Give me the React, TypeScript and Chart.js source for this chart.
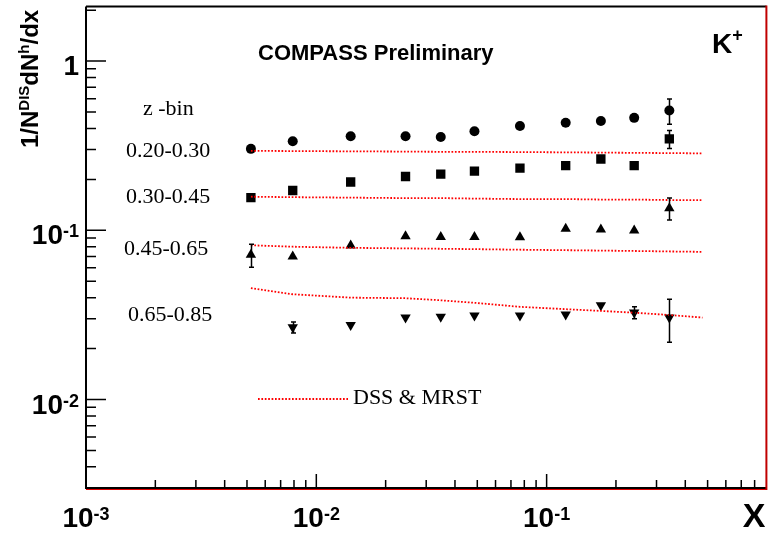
import React, { useEffect, useRef } from "react";
import { Chart, registerables } from "chart.js";

Chart.register(...registerables);

// ---- data (x = Bjorken x, y = 1/N^DIS dN^h/dx) ----
const xPoints = [0.0052, 0.0079, 0.0141, 0.0244, 0.0347, 0.0486, 0.0766, 0.121, 0.172, 0.24, 0.341];

const zBin1 = [0.303, 0.336, 0.36, 0.36, 0.356, 0.385, 0.414, 0.432, 0.443, 0.462, 0.511];
const zBin1Err = [0, 0, 0, 0, 0, 0, 0, 0, 0, 0, 0.087];
const zBin2 = [0.156, 0.172, 0.193, 0.208, 0.215, 0.224, 0.233, 0.241, 0.264, 0.241, 0.347];
const zBin2Err = [0, 0, 0, 0, 0, 0, 0, 0, 0, 0, 0.042];
const zBin3 = [0.0716, 0.0701, 0.0813, 0.0922, 0.0913, 0.0913, 0.0909, 0.102, 0.101, 0.0996, 0.135];
const zBin3Err = [0.011, 0, 0, 0, 0, 0, 0, 0, 0, 0, 0.02];
const zBin4 = [null, 0.0267, 0.0276, 0.0305, 0.0308, 0.0314, 0.0314, 0.0318, 0.0361, 0.0327, 0.0305];
const zBin4Err = [0, 0.002, 0, 0, 0, 0, 0, 0, 0, 0.0027, 0.0087];

// DSS & MRST curves
const xTheory = [0.0052, 0.0079, 0.0141, 0.0244, 0.0347, 0.0486, 0.0766, 0.121, 0.172, 0.24, 0.341, 0.475];
const theory1 = [0.295, 0.294, 0.293, 0.292, 0.291, 0.291, 0.29, 0.289, 0.288, 0.287, 0.286, 0.285];
const theory2 = [0.158, 0.157, 0.156, 0.155, 0.155, 0.154, 0.153, 0.153, 0.152, 0.152, 0.151, 0.151];
const theory3 = [0.0816, 0.08, 0.0788, 0.0782, 0.0778, 0.0774, 0.0768, 0.0763, 0.0759, 0.0755, 0.075, 0.0746];
const theory4 = [0.0455, 0.0419, 0.04, 0.0397, 0.0386, 0.0373, 0.0353, 0.0342, 0.0334, 0.0326, 0.0316, 0.0305];

const zBinLabels = ["0.20-0.30", "0.30-0.45", "0.45-0.65", "0.65-0.85"];

// ---- axes ----
const xMin = 0.001;
const xMax = 0.9;
const yMin = 0.003;
const yMax = 2.1;
const xMajorTicks = [0.001, 0.01, 0.1];
const xMajorExp = ["-3", "-2", "-1"];
const yMajorTicks = [0.01, 0.1, 1];
const yMajorBase = ["10", "10", "1"];
const yMajorExp = ["-2", "-1", ""];

const SANS = "'Liberation Sans', Arial, Helvetica, sans-serif";
const SERIF = "'Liberation Serif', 'Times New Roman', serif";

function minorTicks(min: number, max: number): number[] {
  const out: number[] = [];
  for (let e = Math.floor(Math.log10(min)); e <= Math.ceil(Math.log10(max)); e++) {
    for (let m = 2; m <= 9; m++) {
      const v = m * Math.pow(10, e);
      if (v > min && v < max) out.push(v);
    }
  }
  return out;
}

const pts = (xs: number[], ys: (number | null)[]) =>
  xs.map((x, i) => ({ x, y: ys[i] })).filter((p) => p.y != null) as { x: number; y: number }[];

const errSeries = [
  { vals: zBin1, errs: zBin1Err },
  { vals: zBin2, errs: zBin2Err },
  { vals: zBin3, errs: zBin3Err },
  { vals: zBin4, errs: zBin4Err },
];

const decorPlugin = {
  id: "rootDecor",
  afterDatasetsDraw(chart: any) {
    const ctx: CanvasRenderingContext2D = chart.ctx;
    const xs = chart.scales.x;
    const ys = chart.scales.y;
    const { left, right, top, bottom } = chart.chartArea;
    ctx.save();

    // error bars
    ctx.strokeStyle = "#000";
    ctx.lineWidth = 1.5;
    errSeries.forEach(({ vals, errs }) => {
      vals.forEach((v, i) => {
        const e = errs[i];
        if (v == null || !e) return;
        const px = Math.round(xs.getPixelForValue(xPoints[i])) + 0.5;
        const y1 = ys.getPixelForValue(v + e);
        const y2 = ys.getPixelForValue(v - e);
        ctx.beginPath();
        ctx.moveTo(px, y1);
        ctx.lineTo(px, y2);
        ctx.moveTo(px - 2.5, y1);
        ctx.lineTo(px + 2.5, y1);
        ctx.moveTo(px - 2.5, y2);
        ctx.lineTo(px + 2.5, y2);
        ctx.stroke();
      });
    });

    // frame
    ctx.lineWidth = 2;
    ctx.strokeStyle = "#000";
    ctx.beginPath();
    ctx.moveTo(left, top);
    ctx.lineTo(right, top);
    ctx.moveTo(left, top);
    ctx.lineTo(left, bottom);
    ctx.lineTo(right, bottom);
    ctx.stroke();
    ctx.strokeStyle = "#e00000";
    ctx.lineWidth = 1;
    ctx.beginPath();
    ctx.moveTo(left, bottom + 1.5);
    ctx.lineTo(right, bottom + 1.5);
    ctx.stroke();
    ctx.lineWidth = 2;
    ctx.strokeStyle = "#c00000";
    ctx.beginPath();
    ctx.moveTo(right, top - 1);
    ctx.lineTo(right, bottom + 2);
    ctx.stroke();

    // ticks
    ctx.strokeStyle = "#000";
    ctx.lineWidth = 1.5;
    ctx.beginPath();
    yMajorTicks.forEach((v) => {
      const py = ys.getPixelForValue(v);
      ctx.moveTo(left, py);
      ctx.lineTo(left + 20, py);
    });
    minorTicks(yMin, yMax).forEach((v) => {
      const py = ys.getPixelForValue(v);
      ctx.moveTo(left, py);
      ctx.lineTo(left + 10, py);
    });
    xMajorTicks.forEach((v) => {
      const px = xs.getPixelForValue(v);
      ctx.moveTo(px, bottom);
      ctx.lineTo(px, bottom - 14);
    });
    minorTicks(xMin, xMax).forEach((v) => {
      const px = xs.getPixelForValue(v);
      ctx.moveTo(px, bottom);
      ctx.lineTo(px, bottom - 8);
    });
    ctx.stroke();

    // tick labels
    ctx.fillStyle = "#000";
    ctx.textBaseline = "alphabetic";
    const mainFont = `bold 28px ${SANS}`;
    const supFont = `bold 18px ${SANS}`;
    yMajorTicks.forEach((v, i) => {
      const py = ys.getPixelForValue(v);
      const base = py + 14;
      ctx.font = supFont;
      const wSup = yMajorExp[i] ? ctx.measureText(yMajorExp[i]).width : 0;
      ctx.font = mainFont;
      const wMain = ctx.measureText(yMajorBase[i]).width;
      const rightEdge = left - 7;
      ctx.textAlign = "left";
      ctx.fillText(yMajorBase[i], rightEdge - wSup - wMain, base);
      if (yMajorExp[i]) {
        ctx.font = supFont;
        ctx.fillText(yMajorExp[i], rightEdge - wSup, base - 7);
      }
    });
    xMajorTicks.forEach((v, i) => {
      const px = xs.getPixelForValue(v);
      const base = bottom + 39;
      ctx.font = supFont;
      const wSup = ctx.measureText(xMajorExp[i]).width;
      ctx.font = mainFont;
      const wMain = ctx.measureText("10").width;
      const x0 = px - (wMain + wSup) / 2;
      ctx.textAlign = "left";
      ctx.fillText("10", x0, base);
      ctx.font = supFont;
      ctx.fillText(xMajorExp[i], x0 + wMain, base - 7);
    });

    // axis titles
    ctx.font = `bold 34px ${SANS}`;
    ctx.textAlign = "right";
    ctx.fillText("X", right - 1, bottom + 39);

    ctx.save();
    ctx.translate(37.5, 148);
    ctx.rotate(-Math.PI / 2);
    ctx.textAlign = "left";
    const parts: [string, boolean][] = [
      ["1/N", false],
      ["DIS", true],
      ["dN", false],
      ["h", true],
      ["/dx", false],
    ];
    let cx = 0;
    parts.forEach(([t, sup]) => {
      ctx.font = sup ? `bold 15px ${SANS}` : `bold 24px ${SANS}`;
      ctx.fillText(t, cx, sup ? -9 : 0);
      cx += ctx.measureText(t).width;
    });
    ctx.restore();

    // annotations
    ctx.textAlign = "left";
    ctx.font = `bold 22px ${SANS}`;
    ctx.fillText("COMPASS Preliminary", 258, 60);
    ctx.font = `bold 28px ${SANS}`;
    ctx.fillText("K", 712, 53);
    const kW = ctx.measureText("K").width;
    ctx.font = `bold 18px ${SANS}`;
    ctx.fillText("+", 712 + kW, 41);

    ctx.font = `22px ${SERIF}`;
    ctx.fillText("z -bin", 143, 115);
    const labelPos: [number, number][] = [
      [126, 157],
      [126, 203],
      [124, 255],
      [128, 321],
    ];
    zBinLabels.forEach((t, i) => ctx.fillText(t, labelPos[i][0], labelPos[i][1]));

    // legend
    ctx.strokeStyle = "#ff0000";
    ctx.lineWidth = 1.8;
    ctx.setLineDash([1.7, 1.7]);
    ctx.beginPath();
    ctx.moveTo(258, 399);
    ctx.lineTo(348, 399);
    ctx.stroke();
    ctx.setLineDash([]);
    ctx.fillStyle = "#000";
    ctx.fillText("DSS & MRST", 353, 404);

    ctx.restore();
  },
};

export default function App() {
  const ref = useRef<HTMLCanvasElement | null>(null);

  useEffect(() => {
    if (!ref.current) return;
    const theoryDs = (ys: number[]) => ({
      type: "line" as const,
      data: pts(xTheory, ys),
      showLine: true,
      borderColor: "#ff0000",
      borderWidth: 1.8,
      borderDash: [1.7, 1.7],
      pointRadius: 0,
      fill: false,
      tension: 0,
    });
    const markerDs = (ys: (number | null)[], style: string, r: number, rot = 0) => ({
      type: "scatter" as const,
      data: pts(xPoints, ys),
      pointStyle: style,
      pointRadius: r,
      pointRotation: rot,
      backgroundColor: "#000",
      borderColor: "#000",
      borderWidth: 0,
      showLine: false,
    });

    const chart = new Chart(ref.current, {
      type: "scatter",
      data: {
        datasets: [
          theoryDs(theory1),
          theoryDs(theory2),
          theoryDs(theory3),
          theoryDs(theory4),
          markerDs(zBin1, "circle", 5),
          markerDs(zBin2, "rect", 6.6),
          markerDs(zBin3, "triangle", 6),
          markerDs(zBin4, "triangle", 6, 180),
        ] as any,
      },
      options: {
        animation: false,
        responsive: false,
        layout: { padding: { left: 86, top: 5, right: 2, bottom: 50 } },
        scales: {
          x: { type: "logarithmic", min: xMin, max: xMax, display: false },
          y: { type: "logarithmic", min: yMin, max: yMax, display: false },
        },
        plugins: { legend: { display: false }, tooltip: { enabled: false } },
      },
      plugins: [decorPlugin],
    });
    return () => chart.destroy();
  }, []);

  return (
    <div style={{ position: "absolute", left: 0, top: 0, width: 773, height: 538, background: "#fff" }}>
      <canvas ref={ref} width={773} height={538} style={{ display: "block" }} />
    </div>
  );
}
